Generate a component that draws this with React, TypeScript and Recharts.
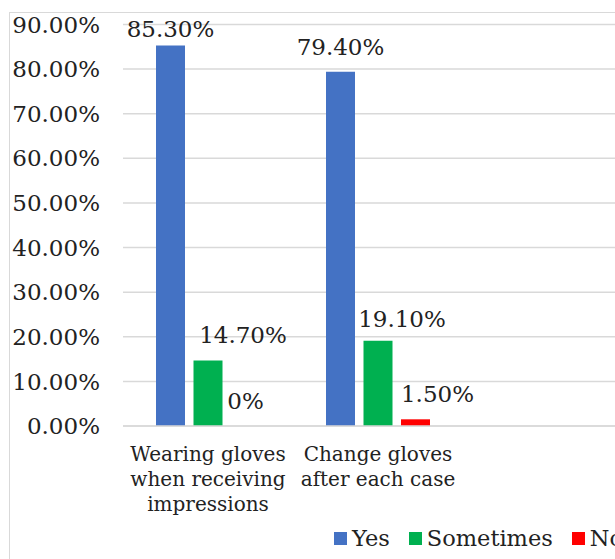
// Glove-use survey: grouped bars of Yes / Sometimes / No per practice
import React from "react";
import { Bar, BarChart, CartesianGrid, LabelList, Legend, XAxis, YAxis } from "recharts";

const CATEGORIES = [
  "Wearing gloves when receiving impressions",
  "Change gloves after each case",
];
const CATEGORY_LINES = [
  ["Wearing gloves", "when receiving", "impressions"],
  ["Change gloves", "after each case"],
];
const YES = [85.3, 79.4];
const SOMETIMES = [14.7, 19.1];
const NO = [0, 1.5];
const Y_TICKS = [0, 10, 20, 30, 40, 50, 60, 70, 80, 90];

const SERIES = [
  { key: "yes", name: "Yes", color: "#4472C4", values: YES },
  { key: "sometimes", name: "Sometimes", color: "#00B050", values: SOMETIMES },
  { key: "no", name: "No", color: "#FF0000", values: NO },
];

// hand-placed label offsets [dx, dy] per series and category
const LABEL_NUDGE: Record<string, number[][]> = {
  yes: [[0, 9], [0, 0]],
  sometimes: [[35, 0], [24, 3]],
  no: [[0, 0], [22, 0]],
};

const FONT = '"DejaVu Serif", serif';
const TEXT = "#222";
const GRID = "#D9D9D9";

const rows = CATEGORIES.map((category, i) => ({
  category,
  yes: YES[i],
  sometimes: SOMETIMES[i],
  no: NO[i],
}));

const pct = (v: number) => (v === 0 ? "0%" : `${v.toFixed(2)}%`);

function CategoryTick(props: any) {
  const { x, y, payload } = props;
  const lines = CATEGORY_LINES[payload.index] ?? [payload.value];
  return (
    <text x={x} y={y} textAnchor="middle" fontSize={20} fontFamily={FONT} fill={TEXT}>
      {lines.map((line: string, i: number) => (
        <tspan key={i} x={x} y={y + 33 + i * 25}>
          {line}
        </tspan>
      ))}
    </text>
  );
}

function valueLabel(seriesKey: string, values: number[]) {
  return (props: any) => {
    const { x, y, width, value } = props;
    // zero bars can be dropped from the label index, so look the category up by value
    const idx = values.indexOf(Number(value));
    const [dx, dy] = LABEL_NUDGE[seriesKey][idx] ?? [0, 0];
    return (
      <text
        x={Number(x) + Number(width) / 2 + dx}
        y={Number(y) - 17 + dy}
        textAnchor="middle"
        fontSize={23}
        fontFamily={FONT}
        fill={TEXT}
      >
        {pct(Number(value))}
      </text>
    );
  };
}

function LegendRow() {
  return (
    <div
      style={{
        display: "flex",
        alignItems: "center",
        whiteSpace: "nowrap",
        fontFamily: FONT,
        fontSize: 22.5,
        color: TEXT,
        lineHeight: "26px",
      }}
    >
      {SERIES.map((s) => (
        <span key={s.key} style={{ display: "flex", alignItems: "center", marginRight: 19 }}>
          <span style={{ width: 13, height: 13, background: s.color, marginRight: 5 }} />
          {s.name}
        </span>
      ))}
    </div>
  );
}

export default function App() {
  return (
    <div
      style={{
        position: "absolute",
        left: 0,
        top: 0,
        width: 615,
        height: 559,
        overflow: "hidden",
        background: "#fff",
      }}
    >
      <div
        style={{
          position: "absolute",
          left: 9,
          top: 12,
          width: 640,
          height: 600,
          borderLeft: `1.5px solid ${GRID}`,
          borderTop: `1.5px solid ${GRID}`,
        }}
      />
      <div style={{ position: "absolute", left: 0, top: 0 }}>
        <BarChart
          width={615}
          height={559}
          data={rows}
          margin={{ top: 24.5, right: 0, left: 0, bottom: 0 }}
          barSize={29}
          barGap={8.5}
        >
          <CartesianGrid vertical={false} stroke={GRID} strokeWidth={1.5} />
          <XAxis
            dataKey="category"
            height={133}
            interval={0}
            tickLine={false}
            tickSize={0}
            axisLine={{ stroke: GRID, strokeWidth: 1.5 }}
            padding={{ left: 0, right: 152 }}
            tick={<CategoryTick />}
          />
          <YAxis
            width={123}
            domain={[0, 90]}
            ticks={Y_TICKS}
            axisLine={false}
            tickLine={false}
            tickSize={0}
            tickMargin={23}
            tickFormatter={(v: number) => `${v.toFixed(2)}%`}
            tick={{ fontSize: 23, fill: TEXT, fontFamily: FONT }}
          />
          <Legend
            layout="horizontal"
            verticalAlign="middle"
            align="center"
            wrapperStyle={{ top: 525, left: 334, width: 320 }}
            content={() => <LegendRow />}
          />
          {SERIES.map((s) => (
            <Bar
              key={s.key}
              dataKey={s.key}
              name={s.name}
              fill={s.color}
              minPointSize={0.01}
              isAnimationActive={false}
            >
              <LabelList dataKey={s.key} content={valueLabel(s.key, s.values)} />
            </Bar>
          ))}
        </BarChart>
      </div>
    </div>
  );
}
